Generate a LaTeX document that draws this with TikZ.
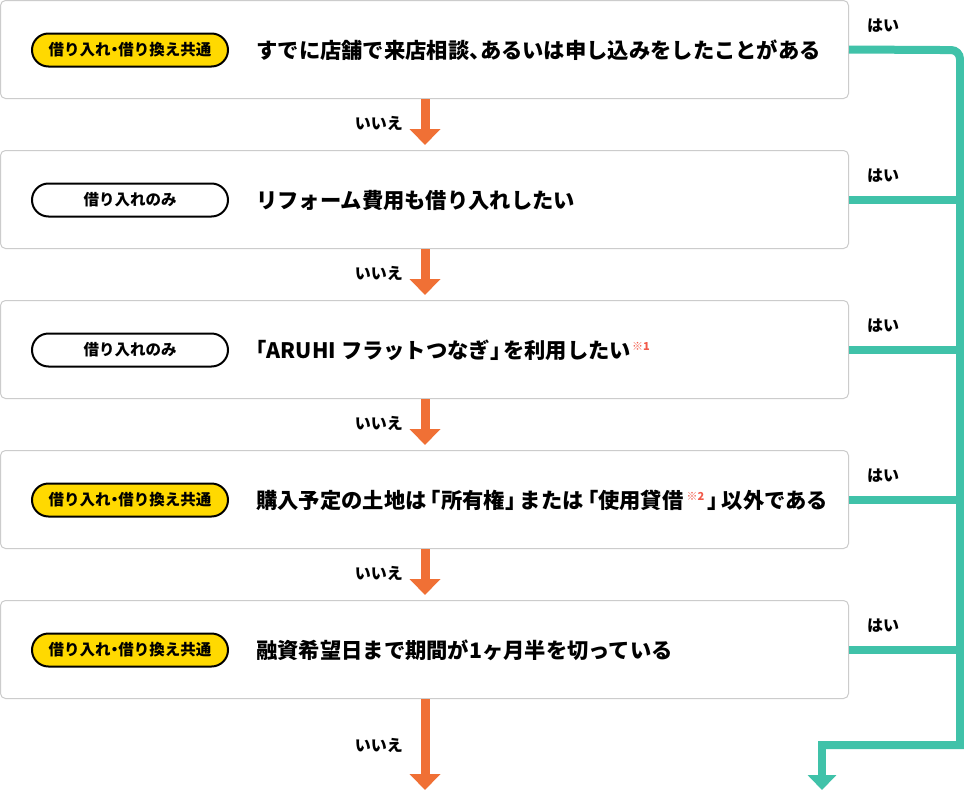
\documentclass[tikz,border=0pt]{standalone}
\usepackage{fontspec}
\setmainfont{Noto Sans CJK JP}[RawFeature=+halt]
\usetikzlibrary{arrows.meta}
\definecolor{boxgray}{HTML}{CCCCCC}
\definecolor{pillyellow}{HTML}{FFD900}
\definecolor{noorange}{HTML}{F07035}
\definecolor{yesteal}{HTML}{40C2A9}
\definecolor{noteRed}{HTML}{F25A4A}
\newcommand{\notemark}[1]{\textcolor{noteRed}{\raisebox{7.5pt}{\fontsize{11}{11}\selectfont ※#1}}}
\newcommand{\obr}[1][2.5pt]{\hspace{#1}「}
\newcommand{\cbr}[1][2.5pt]{」\hspace{#1}}
\tikzset{
  qbox/.style={draw=boxgray, line width=1pt, rounded corners=5pt, minimum width=848pt, minimum height=98pt, inner sep=0pt, fill=white},
  pill/.style={draw=black, line width=2pt, rounded corners=16.5pt, minimum width=196pt, minimum height=33pt, inner sep=0pt, font=\fontsize{15.5}{17}\selectfont\bfseries},
  pillY/.style={pill, fill=pillyellow},
  pillW/.style={pill, fill=white},
  qtext/.style={anchor=west, inner sep=0pt, font=\fontsize{21.3}{24}\selectfont\bfseries},
  nolab/.style={anchor=east, inner sep=0pt, font=\fontsize{16}{18}\selectfont\bfseries},
  yeslab/.style={anchor=west, inner sep=0pt, font=\fontsize{16}{18}\selectfont\bfseries},
  noarrow/.style={draw=noorange, line width=9pt, -{Triangle[width=30pt,length=16pt]}},
  yesline/.style={draw=yesteal, line width=8pt, line join=miter},
  yesarrow/.style={draw=yesteal, line width=8pt, -{Triangle[width=28pt,length=15pt]}}
}
\begin{document}
\begin{tikzpicture}[x=1pt,y=-1pt]
\useasboundingbox[fill=white] (0,0) rectangle (964,795);
% boxes
\node[qbox] (b1) at (424.5,49.5) {};
\node[qbox] (b2) at (424.5,199.5) {};
\node[qbox] (b3) at (424.5,349.5) {};
\node[qbox] (b4) at (424.5,499.5) {};
\node[qbox] (b5) at (424.5,649.5) {};
% pills
\node[pillY] (p1) at (130,50) {借り入れ・借り換え共通};
\node[pillW] (p2) at (130,200) {借り入れのみ};
\node[pillW] (p3) at (130,350) {借り入れのみ};
\node[pillY] (p4) at (130,500) {借り入れ・借り換え共通};
\node[pillY] (p5) at (130,650) {借り入れ・借り換え共通};
% questions
\node[qtext] (t1) at (256,50) {すでに店舗で来店相談、あるいは申し込みをしたことがある};
\node[qtext] (t2) at (256,200) {リフォーム費用も借り入れしたい};
\node[qtext] (t3) at (256,350) {「ARUHI フラットつなぎ\cbr を利用したい\hspace{1pt}\notemark{1}};
\node[qtext] (t4) at (256,500) {購入予定の土地は\obr[4pt]所有権\cbr[4pt]または\obr[4pt]使用貸借\hspace{3pt}\notemark{2}\hspace{3pt}\cbr[4pt]以外である};
\node[qtext] (t5) at (256,650) {融資希望日まで期間が1ヶ月半を切っている};
% coordinates
\coordinate (endNo) at (425,790);
\coordinate (endYes) at (822,790);
\coordinate (rTopIn) at (940,50);
\coordinate (rTop) at (960,50);
\coordinate (rBot) at (960,745);
\coordinate (lBot) at (822,745);
% no arrows
\draw[noarrow, shorten >=5pt] (b1.south -| endNo) -- (b2.north -| endNo);
\draw[noarrow, shorten >=5pt] (b2.south -| endNo) -- (b3.north -| endNo);
\draw[noarrow, shorten >=5pt] (b3.south -| endNo) -- (b4.north -| endNo);
\draw[noarrow, shorten >=5pt] (b4.south -| endNo) -- (b5.north -| endNo);
\draw[noarrow] (b5.south -| endNo) -- (endNo);
\node[nolab] (n1) at (403,123) {いいえ};
\node[nolab] (n2) at (403,273) {いいえ};
\node[nolab] (n3) at (403,423) {いいえ};
\node[nolab] (n4) at (403,573) {いいえ};
\node[nolab] (n5) at (403,745) {いいえ};
% yes lines
\draw[yesline] (b1.east) -- (rTopIn);
\draw[yesline] (b2.east) -- (b2.east -| rTop);
\draw[yesline] (b3.east) -- (b3.east -| rTop);
\draw[yesline] (b4.east) -- (b4.east -| rTop);
\draw[yesline] (b5.east) -- (b5.east -| rTop);
\draw[yesline] (rTopIn) [rounded corners=9pt] -- (rTop) [sharp corners] -- (rBot) -- (lBot);
\draw[yesarrow] ([yshift=4pt]lBot) -- (endYes);
\node[yeslab] (y1) at (867,26) {はい};
\node[yeslab] (y2) at (867,176) {はい};
\node[yeslab] (y3) at (867,326) {はい};
\node[yeslab] (y4) at (867,476) {はい};
\node[yeslab] (y5) at (867,626) {はい};
\end{tikzpicture}
\end{document}
